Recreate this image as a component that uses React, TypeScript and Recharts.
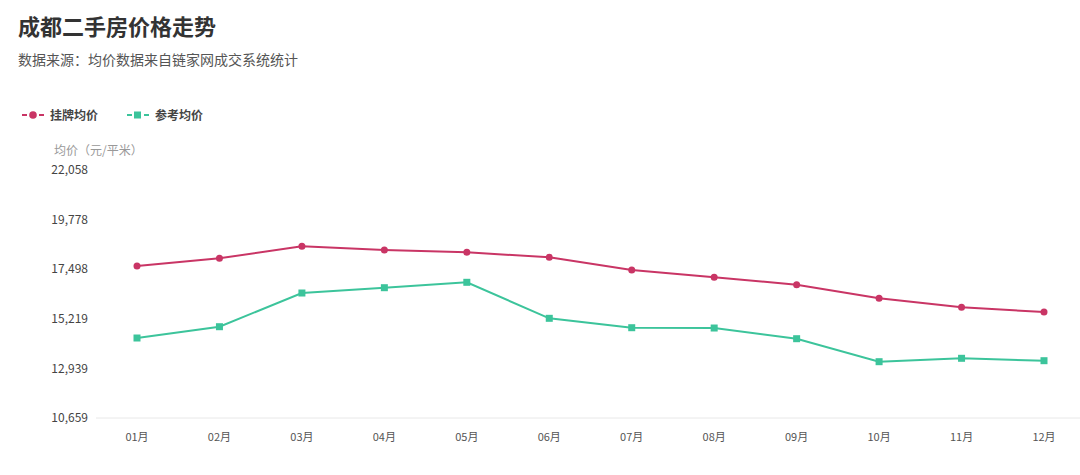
import { LineChart, Line, XAxis, YAxis } from 'recharts'

const months = ['01月', '02月', '03月', '04月', '05月', '06月', '07月', '08月', '09月', '10月', '11月', '12月']
const listingPrice = [17645, 17999, 18550, 18380, 18275, 18045, 17461, 17126, 16785, 16160, 15747, 15531]
const referencePrice = [14336, 14855, 16404, 16648, 16896, 15241, 14809, 14795, 14304, 13247, 13403, 13293]
const yTicks = [10659, 12939, 15219, 17498, 19778, 22058]

const RED = '#c93565'
const GREEN = '#3cc49b'
const FONT = '"Noto Sans CJK SC", "Noto Sans", sans-serif'

const fmt = (v: number) => v.toLocaleString('en-US')

const SquareDot = (props: any) => {
  const { cx, cy } = props
  if (cx == null || cy == null) return null
  return <rect x={cx - 3.5} y={cy - 3.5} width={7} height={7} fill={GREEN} />
}

function LegendIcon({ color, square }: { color: string; square?: boolean }) {
  return (
    <svg width={22} height={10} style={{ marginRight: 6 }}>
      <line x1={0} y1={5} x2={22} y2={5} stroke={color} strokeWidth={2} strokeDasharray="5 12" />
      <line x1={17} y1={5} x2={22} y2={5} stroke={color} strokeWidth={2} />
      {square ? (
        <rect x={7} y={1.5} width={7} height={7} fill={color} />
      ) : (
        <circle cx={11} cy={5} r={3.8} fill={color} />
      )}
    </svg>
  )
}

export default function App() {
  const data = months.map((m, i) => ({
    month: m,
    listing: listingPrice[i],
    reference: referencePrice[i],
  }))

  return (
    <div style={{ position: 'absolute', left: 0, top: 0, width: 1080, height: 475, overflow: 'hidden', background: '#fff', fontFamily: FONT }}>
      <div style={{ position: 'absolute', left: 18, top: 9, fontSize: 22, fontWeight: 700, color: '#333' }}>
        成都二手房价格走势
      </div>
      <div style={{ position: 'absolute', left: 18, top: 49, fontSize: 14, color: '#555' }}>
        数据来源：均价数据来自链家网成交系统统计
      </div>
      <div style={{ position: 'absolute', left: 22, top: 106, display: 'flex', alignItems: 'center', fontSize: 12, fontWeight: 700, color: '#444' }}>
        <LegendIcon color={RED} />
        <span style={{ marginRight: 29 }}>挂牌均价</span>
        <LegendIcon color={GREEN} square />
        <span>参考均价</span>
      </div>
      <div style={{ position: 'absolute', left: 54, top: 141, fontSize: 12, color: '#999' }}>
        均价（元/平米）
      </div>
      <div style={{ position: 'absolute', left: 0, top: 0 }}>
        <LineChart width={1100} height={475} data={data} margin={{ top: 170, right: 15, left: 0, bottom: 0 }}>
          <XAxis
            dataKey="month"
            height={57}
            padding={{ left: 41, right: 41 }}
            tickLine={false}
            axisLine={{ stroke: '#e8e8e8' }}
            tickMargin={9}
            interval={0}
            tick={{ fontSize: 11, fill: '#555', fontFamily: FONT }}
          />
          <YAxis
            width={96}
            domain={[10659, 22058]}
            ticks={yTicks}
            interval={0}
            tickFormatter={fmt}
            axisLine={false}
            tickLine={false}
            tick={{ fontSize: 12, fill: '#444', fontFamily: FONT }}
          />
          <Line
            type="linear"
            dataKey="listing"
            stroke={RED}
            strokeWidth={2}
            dot={{ r: 3.5, fill: RED, stroke: RED, strokeWidth: 0 }}
            isAnimationActive={false}
          />
          <Line
            type="linear"
            dataKey="reference"
            stroke={GREEN}
            strokeWidth={2}
            dot={<SquareDot />}
            isAnimationActive={false}
          />
        </LineChart>
      </div>
    </div>
  )
}
